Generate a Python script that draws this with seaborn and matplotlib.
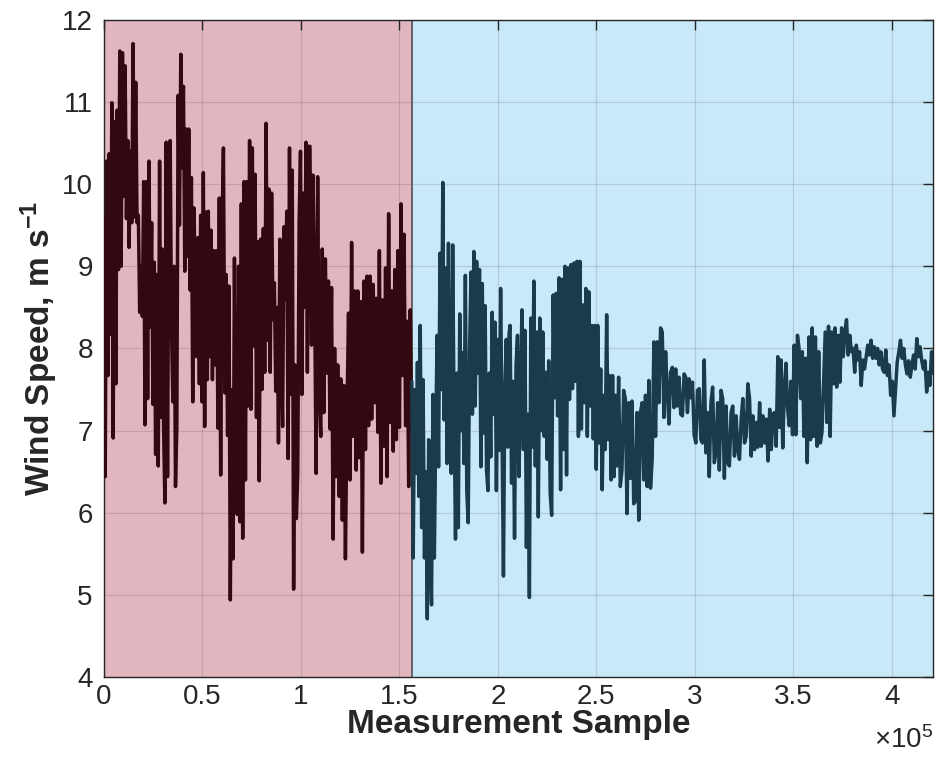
import numpy as np
import pandas as pd
import matplotlib
matplotlib.use("Agg")
import matplotlib.pyplot as plt
from matplotlib.ticker import FuncFormatter
import seaborn as sns

# ---------------- data ----------------
# wind speed (m/s) segments, each spread evenly over a sample range
seg_a = [9.6, 6.44, 10.28, 7.67, 10.37, 8.17, 10.99, 6.91, 10.76, 7.57, 10.9, 8.96, 11.62, 9.0,
         11.6, 9.85, 11.44, 9.58, 10.53, 9.23, 10.4, 9.53, 11.71, 9.6, 11.24, 9.53, 9.62, 8.44,
         9.0, 8.39, 10.03, 7.07, 10.03, 7.39, 10.28, 8.26, 9.53, 7.32, 9.05, 6.71, 8.9, 6.57,
         10.28, 7.16, 9.21, 7.07, 6.12, 10.51, 6.44, 9.8, 10.53, 8.26, 7.35, 9.0, 6.32, 7.03,
         11.08, 9.5, 11.58, 10.2, 11.19, 8.94, 10.67, 9.12, 10.67, 8.71, 10.08, 7.35, 9.71, 8.6,
         7.9, 9.35, 7.57, 9.62, 7.35, 10.14, 7.05, 9.66, 7.62]
seg_b = [9.67, 7.9, 9.44, 7.62, 9.19, 7.8, 9.19, 7.03, 9.83, 6.46, 9.5, 10.44, 7.46, 8.9, 6.94,
         8.76, 4.94, 7.5, 5.44, 9.1, 6.5, 5.98, 9.0, 5.89, 9.76, 5.69, 10.03, 6.4, 10.03, 7.3,
         10.53, 7.26, 10.44, 8.03, 10.12, 7.16, 9.3, 6.39, 9.33, 7.5, 9.46, 7.71, 10.74, 8.1,
         9.94, 7.71, 9.89, 8.35, 8.8, 7.48, 8.5, 6.85, 9.33, 7.9, 7.05, 9.48, 8.6, 9.67, 6.66,
         10.44, 7.44, 10.17, 5.07, 7.8, 5.93, 6.48, 9.53, 10.4, 7.44, 9.89, 8.5, 10.51, 7.71, 10.46]
seg_c = [10.46, 8.04, 10.11, 8.7, 6.48, 10.09, 7.5, 6.93, 9.21, 7.22, 9.09, 7.7, 8.82, 7.02, 8.74,
         5.68, 8.0, 6.44, 7.8, 6.2, 7.63, 5.91, 7.55, 5.44, 7.2, 8.43, 6.4, 9.29, 6.93, 8.7, 6.52,
         8.7, 6.67, 8.57, 5.52, 8.82, 6.77, 8.88, 7.06, 8.88, 7.14, 8.78, 7.34, 8.61, 6.98, 9.19,
         6.36, 8.59, 6.81, 8.98, 6.44, 9.64, 7.1, 8.7, 6.75, 8.96, 6.89, 9.19, 7.04, 9.76, 7.67,
         9.39, 7.06, 8.33, 6.32, 8.47, 7.0]
seg_d = [7.6, 5.45, 7.5, 6.48, 7.83, 6.2, 8.28, 5.82, 7.62, 5.45, 6.5, 4.71, 6.89, 5.6, 4.88,
         7.44, 5.45, 7.0, 8.16, 6.56, 9.16, 7.5, 10.02, 7.13, 8.98, 6.6, 9.28, 7.05, 6.48, 9.26,
         7.2, 5.68, 7.7, 5.82, 8.42, 7.0, 7.95, 6.6, 8.89, 6.27, 5.88, 8.0, 8.93, 7.2, 9.18, 7.3,
         9.06, 7.7, 8.96, 6.56, 8.79, 6.97, 8.52, 6.52, 6.27, 7.7, 6.68, 8.44, 7.2, 8.32, 6.27,
         8.11, 6.76, 8.73, 6.93, 5.23, 7.5, 8.11, 6.8, 8.18]
seg_e = [8.28, 6.36, 7.6, 5.69, 7.79, 8.16, 6.44, 7.5, 8.47, 6.77, 8.22, 5.58, 7.2, 4.97, 8.37,
         6.8, 8.82, 6.57, 8.2, 5.95, 8.37, 7.0, 8.2, 6.93, 7.71, 6.65, 7.85, 6.24, 5.97, 8.65,
         7.4, 8.67, 7.18, 8.86, 6.28, 8.84, 6.77, 9.0, 6.46, 8.98, 7.38, 9.02, 7.51, 9.04, 7.6,
         9.06, 6.93, 9.06, 7.02, 8.53, 7.34, 8.73, 6.93, 8.69, 7.3, 8.28, 6.9, 8.28, 6.53, 8.28,
         6.85, 7.75, 6.28, 7.43, 6.77, 8.41, 6.89, 7.67, 6.4, 7.67, 6.44]
seg_f = [7.43, 6.57, 7.65, 6.32, 6.52, 7.49, 7.39, 5.99, 7.34, 6.42, 7.36, 6.11, 6.14, 7.22, 5.91,
         7.22, 7.34, 6.4, 7.43, 6.32, 7.61, 6.3, 6.65, 8.08, 6.93, 8.08, 7.34, 8.25, 8.2, 7.16,
         7.96, 7.47, 7.08, 7.71, 7.77, 7.28, 7.75, 7.3, 7.65, 7.2, 7.18, 7.69, 7.65, 7.22, 7.63,
         7.4, 7.59, 6.95, 6.85, 7.49, 7.51, 6.89, 6.85, 7.86, 6.73, 7.22, 6.44, 7.34, 7.53, 6.61,
         6.73, 7.34, 6.52, 7.49, 7.39, 6.42, 7.3, 6.61, 6.57, 7.22, 7.3, 6.69, 7.18, 6.77, 6.65,
         7.14, 7.39, 6.85, 6.93, 7.57, 7.39, 6.69, 7.18, 6.77, 7.1, 6.8, 7.34, 6.81, 7.18, 6.85,
         7.14, 6.63, 7.26]
seg_g = [6.77, 7.2, 7.22, 6.81, 7.9, 7.04, 7.86, 6.79, 7.5, 7.82, 7.26, 7.06, 7.6, 6.95, 8.04,
         6.95, 8.16, 8.0, 7.39, 7.96, 6.93, 7.88, 6.61, 8.14, 6.89, 8.25, 6.93, 8.14, 6.81, 7.96,
         6.85, 6.98, 7.6, 8.2, 7.1, 8.27, 6.93, 8.2, 7.57, 8.25, 7.53, 8.16, 7.59, 8.25, 7.9, 8.2,
         8.35, 7.92, 8.16, 7.96, 8.0, 7.71, 8.04, 7.86, 7.96, 7.55, 7.86, 7.75, 7.9, 8.04, 7.92,
         8.1, 7.88, 8.02, 7.88, 8.0, 7.8, 7.96, 7.75, 7.71, 7.98, 7.67, 7.8, 7.43, 7.6, 7.18,
         7.51, 7.84, 7.96, 8.1, 7.88, 8.0, 7.8, 7.69, 7.85, 7.65, 7.8, 7.92, 7.75, 8.12, 7.9,
         8.02, 7.85, 7.75, 7.85, 7.47, 7.71, 7.55, 7.96, 7.7]

# sample ranges (measurement sample index) covered by each segment
red_segments = [(seg_a, 0, 52500), (seg_b, 53000, 104000), (seg_c, 104600, 156300)]
blue_segments = [(seg_d, 156300, 205700), (seg_e, 206200, 259000),
                 (seg_f, 259600, 338000), (seg_g, 338800, 421000)]
split_sample = 156300
n_samples = 421000
x_ticks = [0, 50000, 100000, 150000, 200000, 250000, 300000, 350000, 400000]
y_ticks = [4, 5, 6, 7, 8, 9, 10, 11, 12]


def build(segments):
    xs, ys = [], []
    for vals, start, end in segments:
        xs.append(np.linspace(start, end, len(vals)))
        ys.append(np.asarray(vals, dtype=float))
    return pd.DataFrame({"sample": np.concatenate(xs), "speed": np.concatenate(ys)})


df_red = build(red_segments)
df_blue = build(blue_segments)

# ---------------- style ----------------
sns.set_theme(style="white")
plt.rcParams["font.family"] = ["Liberation Sans", "DejaVu Sans"]
plt.rcParams["mathtext.fontset"] = "custom"
plt.rcParams["mathtext.rm"] = "Liberation Sans"
plt.rcParams["mathtext.it"] = "Liberation Sans:italic"
plt.rcParams["mathtext.bf"] = "Liberation Sans:bold"

fig = plt.figure(figsize=(9.36, 7.6), dpi=100)
ax = fig.add_axes([0.111, 0.109, 0.886, 0.865])

ax.axvspan(0, split_sample, color="#e1b6bf", lw=0, zorder=0.2)
ax.axvspan(split_sample, n_samples, color="#c9e9f9", lw=0, zorder=0.2)
ax.axvline(split_sample, color="#505050", lw=1.2, zorder=1.5)

sns.lineplot(data=df_red, x="sample", y="speed", color="#320910", lw=2.5,
             estimator=None, sort=False, ax=ax, zorder=3)
sns.lineplot(data=df_blue, x="sample", y="speed", color="#1b3a4a", lw=2.5,
             estimator=None, sort=False, ax=ax, zorder=3)

ax.set_xlim(0, n_samples)
ax.set_ylim(4, 12)
ax.set_xticks(x_ticks)
ax.set_yticks(y_ticks)
ax.xaxis.set_major_formatter(FuncFormatter(lambda v, p: f"{v / 1e5:g}"))
ax.yaxis.set_major_formatter(FuncFormatter(lambda v, p: f"{v:g}"))

ax.set_axisbelow(True)
ax.grid(True, color="#262626", alpha=0.15, lw=0.9)

for s in ax.spines.values():
    s.set_color("#262626")
    s.set_linewidth(1.0)

ax.tick_params(direction="in", length=7, width=1.0, colors="#262626",
               top=True, right=True, labelsize=20)
ax.tick_params(axis="x", pad=5)
ax.tick_params(axis="y", pad=8)
for lab in ax.get_xticklabels() + ax.get_yticklabels():
    lab.set_color("#262626")

ax.set_xlabel("Measurement Sample", fontsize=24, fontweight="bold", color="#262626", labelpad=-1)
ax.set_ylabel(r"Wind Speed, m s$^{\mathbf{-1}}$", fontsize=24, fontweight="bold",
              color="#262626", labelpad=1)
ax.text(1.0, -0.108, r"×10$^{5}$", transform=ax.transAxes, ha="right", va="baseline",
        fontsize=20, color="#262626")

fig.savefig("out.png", dpi=100)
